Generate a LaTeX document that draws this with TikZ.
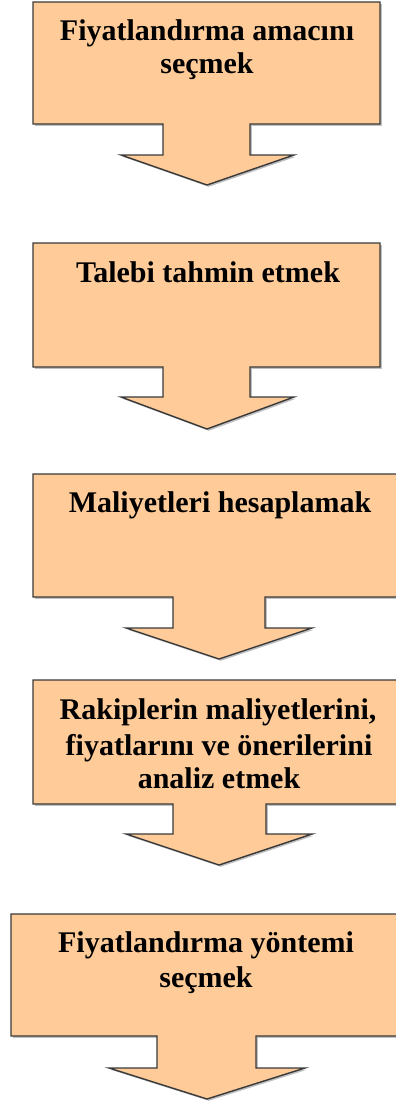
\documentclass[tikz,border=0pt]{standalone}
\usepackage{fontspec}
\setmainfont{Liberation Serif}
\definecolor{peach}{HTML}{FFCC99}
\definecolor{edge}{HTML}{3A3A3A}
\newcommand\callshape[1]{%
  \fill[black,opacity=0.25,shift={(1.8,1.8)}] #1;
  \filldraw[boxstyle] #1;}
\begin{document}
\begin{tikzpicture}[x=1pt,y=-1pt,
  boxstyle/.style={fill=peach,draw=edge,line width=1.4pt,line join=miter},
  label/.style={anchor=base,inner sep=0pt,font=\fontsize{30}{35}\selectfont\bfseries}]
\useasboundingbox (0,0) rectangle (396,1101);
% box 1
\callshape{(33,2) -- (380,2) -- (380,124) -- (250,124) -- (250,155) -- (294,155) -- (207,185) -- (121,155) -- (163,155) -- (163,124) -- (33,124) -- cycle}
\node[label] (t1a) at (207,40) {Fiyatlandırma amacını};
\node[label] (t1b) at (207,73) {seçmek};
% box 2
\callshape{(33,243) -- (380,243) -- (380,367) -- (250,367) -- (250,397) -- (294,397) -- (207,429) -- (121,397) -- (163,397) -- (163,367) -- (33,367) -- cycle}
\node[label] (t2) at (208,282) {Talebi tahmin etmek};
% box 3
\callshape{(33,474) -- (410,474) -- (410,597) -- (265,597) -- (265,628) -- (312,628) -- (219,659) -- (126,628) -- (173,628) -- (173,597) -- (33,597) -- cycle}
\node[label] (t3) at (220,512) {Maliyetleri hesaplamak};
% box 4
\callshape{(33,680) -- (410,680) -- (410,804) -- (266,804) -- (266,834) -- (312,834) -- (219,865) -- (126,834) -- (173,834) -- (173,804) -- (33,804) -- cycle}
\node[label] (t4a) at (218,719) {Rakiplerin maliyetlerini,};
\node[label] (t4b) at (219,755) {fiyatlarını ve önerilerini};
\node[label] (t4c) at (219,788) {analiz etmek};
% box 5
\callshape{(11,914) -- (410,914) -- (410,1036) -- (256,1036) -- (256,1068) -- (305,1068) -- (207,1099) -- (109,1068) -- (157,1068) -- (157,1036) -- (11,1036) -- cycle}
\node[label] (t5a) at (206,952) {Fiyatlandırma yöntemi};
\node[label] (t5b) at (206,987) {seçmek};
\end{tikzpicture}
\end{document}
